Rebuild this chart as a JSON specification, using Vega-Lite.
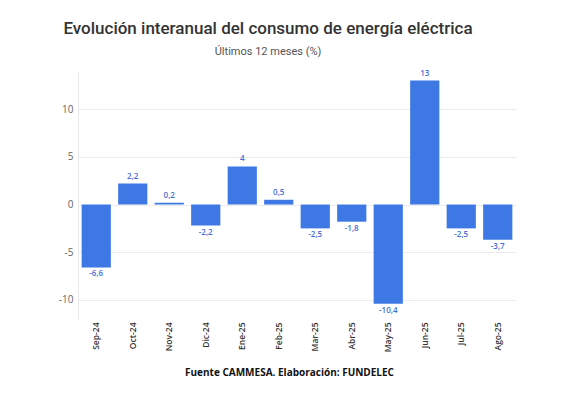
{
  "$schema": "https://vega.github.io/schema/vega-lite/v6.json",
  "width": 438,
  "height": 248,
  "autosize": "none",
  "padding": {"left": 78, "top": 71, "right": 46, "bottom": 95},
  "background": "white",
  "title": {
    "text": "Evolución interanual del consumo de energía eléctrica",
    "subtitle": "Últimos 12 meses (%)",
    "anchor": "middle",
    "dx": -29,
    "offset": 12,
    "font": "Roboto",
    "fontSize": 17,
    "fontWeight": 500,
    "color": "#333333",
    "subtitleFont": "Roboto",
    "subtitleFontSize": 11,
    "subtitleColor": "#555555",
    "subtitlePadding": 8
  },
  "data": {
    "values": [
      {"mes": "Sep-24", "variacion": -6.6},
      {"mes": "Oct-24", "variacion": 2.2},
      {"mes": "Nov-24", "variacion": 0.2},
      {"mes": "Dic-24", "variacion": -2.2},
      {"mes": "Ene-25", "variacion": 4},
      {"mes": "Feb-25", "variacion": 0.5},
      {"mes": "Mar-25", "variacion": -2.5},
      {"mes": "Abr-25", "variacion": -1.8},
      {"mes": "May-25", "variacion": -10.4},
      {"mes": "Jun-25", "variacion": 13},
      {"mes": "Jul-25", "variacion": -2.5},
      {"mes": "Ago-25", "variacion": -3.7}
    ]
  },
  "encoding": {
    "x": {
      "field": "mes",
      "type": "ordinal",
      "sort": null,
      "scale": {"paddingInner": 0.2, "paddingOuter": 0.1},
      "axis": {
        "title": "Fuente CAMMESA. Elaboración: FUNDELEC",
        "titleFont": "Open Sans",
        "titleFontSize": 10,
        "titleFontWeight": "bold",
        "titleColor": "#111111",
        "titleX": 211,
        "titlePadding": 16,
        "labelAngle": -90,
        "labelFont": "Open Sans",
        "labelFontSize": 8.5,
        "labelFontWeight": 600,
        "labelColor": "#333333",
        "labelPadding": 3,
        "ticks": false,
        "domain": false,
        "grid": false
      }
    },
    "y": {
      "field": "variacion",
      "type": "quantitative",
      "scale": {"domain": [-12, 14], "nice": false, "zero": true},
      "axis": {
        "title": null,
        "values": [-10, -5, 0, 5, 10],
        "labelFont": "Open Sans",
        "labelFontSize": 10,
        "labelColor": "#666666",
        "labelPadding": 5,
        "ticks": false,
        "domain": true,
        "domainColor": "#e8e8e8",
        "gridColor": "#ececec",
        "gridWidth": 1
      }
    }
  },
  "layer": [
    {
      "mark": {"type": "bar", "color": "#3d78e4"}
    },
    {
      "transform": [{"filter": "datum.variacion >= 0"}],
      "mark": {"type": "text", "baseline": "bottom", "dy": -3, "font": "Open Sans", "fontSize": 8, "fontWeight": 600, "color": "#3f6fd6"},
      "encoding": {"text": {"field": "variacion", "type": "quantitative", "format": ".1~f"}}
    },
    {
      "transform": [{"filter": "datum.variacion < 0"}],
      "mark": {"type": "text", "baseline": "top", "dy": 3, "font": "Open Sans", "fontSize": 8, "fontWeight": 600, "color": "#3f6fd6"},
      "encoding": {"text": {"field": "variacion", "type": "quantitative", "format": ".1~f"}}
    }
  ],
  "config": {
    "locale": {
      "number": {"decimal": ",", "thousands": ".", "grouping": [3], "currency": ["$", ""], "minus": "-"}
    },
    "view": {"stroke": null},
    "axisX": {"domain": false}
  }
}
